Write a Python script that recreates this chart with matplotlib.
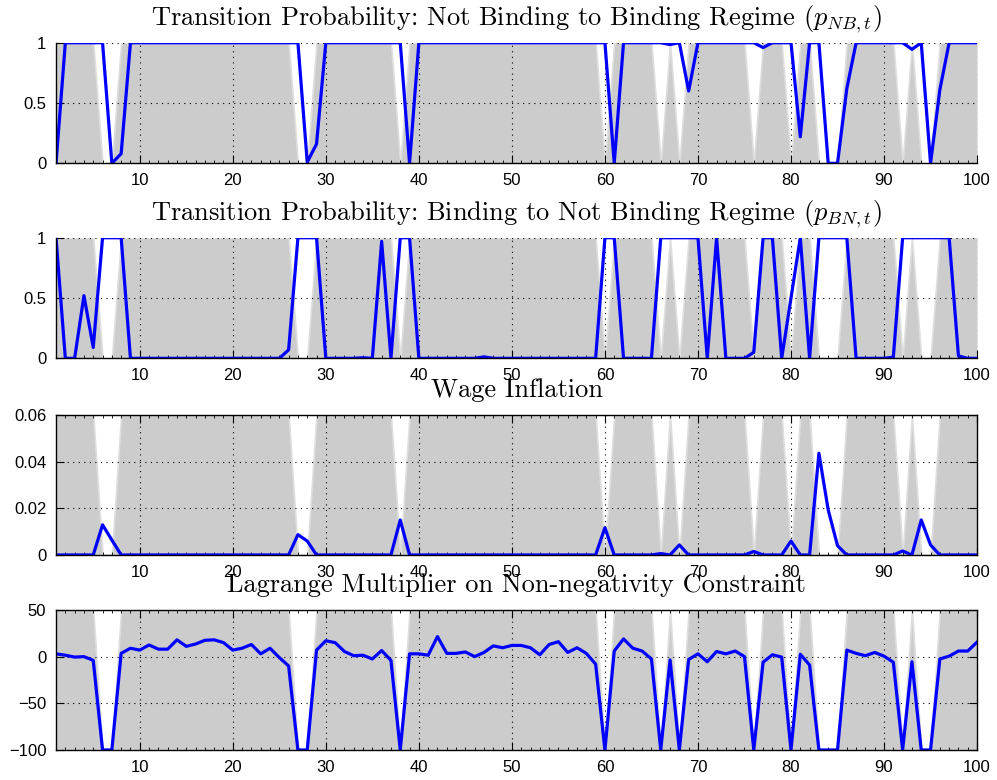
import matplotlib
matplotlib.use("Agg")
import matplotlib.pyplot as plt
import numpy as np
from matplotlib.ticker import MultipleLocator

plt.rcParams['font.family'] = ['Liberation Sans', 'DejaVu Sans']
plt.rcParams['mathtext.fontset'] = 'cm'

# periods 1..100
t = np.arange(1, 101)

# periods in which the non-negativity constraint does not bind
not_binding = [6, 7, 27, 28, 38, 60, 66, 68, 76, 80, 83, 84, 85, 92, 94, 95]

# transition probability not binding -> binding
p_nb = [0, 1, 1, 1, 1, 1, 0, 0.08, 1, 1,
        1, 1, 1, 1, 1, 1, 1, 1, 1, 1,
        1, 1, 1, 1, 1, 1, 1, 0.01, 0.16, 1,
        1, 1, 1, 1, 1, 1, 1, 1, 0, 1,
        1, 1, 1, 1, 1, 1, 1, 1, 1, 1,
        1, 1, 1, 1, 1, 1, 1, 1, 1, 1,
        0, 1, 1, 1, 1, 1, 0.985, 1, 0.6, 1,
        1, 1, 1, 1, 1, 1, 0.96, 1, 1, 1,
        0.22, 1, 1, 0, 0, 0.62, 1, 1, 1, 1,
        1, 1, 0.945, 1, 0, 0.61, 1, 1, 1, 1]

# transition probability binding -> not binding
p_bn = [1, 0, 0, 0.52, 0.09, 1, 1, 1, 0, 0,
        0, 0, 0, 0, 0, 0, 0, 0, 0, 0,
        0, 0, 0, 0, 0, 0.07, 1, 1, 1, 0,
        0, 0, 0, 0.005, 0, 0.97, 0, 1, 1, 0,
        0, 0, 0, 0, 0, 0, 0.012, 0, 0, 0,
        0, 0, 0, 0, 0, 0, 0, 0, 0, 1,
        1, 0, 0, 0, 0, 1, 1, 1, 1, 1,
        0, 1, 0, 0, 0, 0.05, 1, 1, 0, 0.5,
        1, 0, 1, 1, 1, 1, 0, 0, 0, 0,
        0.01, 1, 1, 1, 1, 1, 1, 0.02, 0, 0]

# wage inflation
wage = [0, 0, 0, 0, 0, 0.0129, 0.0064, 0, 0, 0,
        0, 0, 0, 0, 0, 0, 0, 0, 0, 0,
        0, 0, 0, 0, 0, 0, 0.0087, 0.006, 0, 0,
        0, 0, 0, 0, 0, 0, 0, 0.015, 0, 0,
        0, 0, 0, 0, 0, 0, 0, 0, 0, 0,
        0, 0, 0, 0, 0, 0, 0, 0, 0, 0.0117,
        0, 0, 0, 0, 0, 0.0006, 0, 0.0043, 0, 0,
        0, 0, 0, 0, 0, 0.0015, 0, 0, 0, 0.006,
        0, 0, 0.0436, 0.0193, 0.004, 0, 0, 0, 0, 0,
        0, 0.0017, 0, 0.015, 0.0043, 0, 0, 0, 0, 0]

# lagrange multiplier on the non-negativity constraint
lagr = [3, 1.5, -0.5, 0, -4, -100, -100, 3.5, 9, 7,
        12.5, 8, 8, 18, 11, 13.5, 17.5, 18, 15, 7,
        9, 13, 3, 9, -1, -10, -100, -100, 7, 17,
        15, 5.5, 1, 1.5, -2.5, 6.5, -4, -100, 3, 3,
        1.5, 21.5, 3.5, 3.5, 5, 0, 4.5, 11.5, 9.5, 12,
        12, 9.5, 2, 13, 16, 4.5, 9.5, 3.5, -8, -100,
        6, 19, 9, 6, -2.5, -100, -3.5, -100, -3, 3,
        -5.5, 5.5, 3, 6, 0, -100, -6, 2, -0.5, -100,
        2.5, -9, -100, -100, -100, 7, 3.5, 1, 4.5, 0.5,
        -6, -100, -5.5, -100, -100, -2.5, 0.5, 6, 6, 15.5]

binding = np.array([0 if k in not_binding else 1 for k in t])

titles = [r'Transition Probability: Not Binding to Binding Regime ($p_{NB,t}$)',
          r'Transition Probability: Binding to Not Binding Regime ($p_{BN,t}$)',
          'Wage Inflation',
          'Lagrange Multiplier on Non-negativity Constraint']
series = [p_nb, p_bn, wage, lagr]
ylims = [(0, 1), (0, 1), (0, 0.06), (-100, 50)]
yticks = [[0, 0.5, 1], [0, 0.5, 1], [0, 0.02, 0.04, 0.06], [-100, -50, 0, 50]]
yticklabels = [['0', '0.5', '1'], ['0', '0.5', '1'],
               ['0', '0.02', '0.04', '0.06'], ['\u2212100', '\u221250', '0', '50']]
boxed = [False, False, True, True]

# axes rectangles in figure fraction
rects = [[0.0562, 0.7906, 0.9238, 0.1546],
         [0.0562, 0.5406, 0.9238, 0.1546],
         [0.0562, 0.2885, 0.9238, 0.1795],
         [0.0562, 0.0385, 0.9238, 0.1795]]

fig = plt.figure(figsize=(9.97, 7.8), dpi=100)

for i in range(4):
    ax = fig.add_axes(rects[i])
    lo, hi = ylims[i]
    # shaded binding regime
    ax.fill_between(t, lo, lo + binding * (hi - lo), facecolor='#cccccc',
                    edgecolor='#dedede', linewidth=1.2, zorder=1)
    ax.plot(t, series[i], color='#0000ff', linewidth=2.3, zorder=3)
    ax.set_xlim(1, 100)
    ax.set_ylim(lo, hi)
    ax.set_xticks(range(10, 101, 10))
    ax.xaxis.set_minor_locator(MultipleLocator(1))
    ax.set_yticks(yticks[i])
    ax.set_yticklabels(yticklabels[i])
    ax.grid(True, which='major', linestyle=(0, (1, 4)), color='black',
            linewidth=0.8, zorder=2)
    ax.set_axisbelow(False)
    ax.tick_params(which='both', direction='in', labelsize=12,
                   top=boxed[i], right=boxed[i], pad=7)
    ax.tick_params(which='major', length=6, width=0.8)
    ax.tick_params(which='minor', length=2.5, width=0.6)
    for s in ['top', 'right']:
        ax.spines[s].set_visible(boxed[i])
    for s in ax.spines.values():
        s.set_linewidth(1.0)
        s.set_zorder(4)
    ax.set_title(titles[i], family='cmr10', fontsize=19, pad=13)

plt.savefig('out.png', dpi=100)
